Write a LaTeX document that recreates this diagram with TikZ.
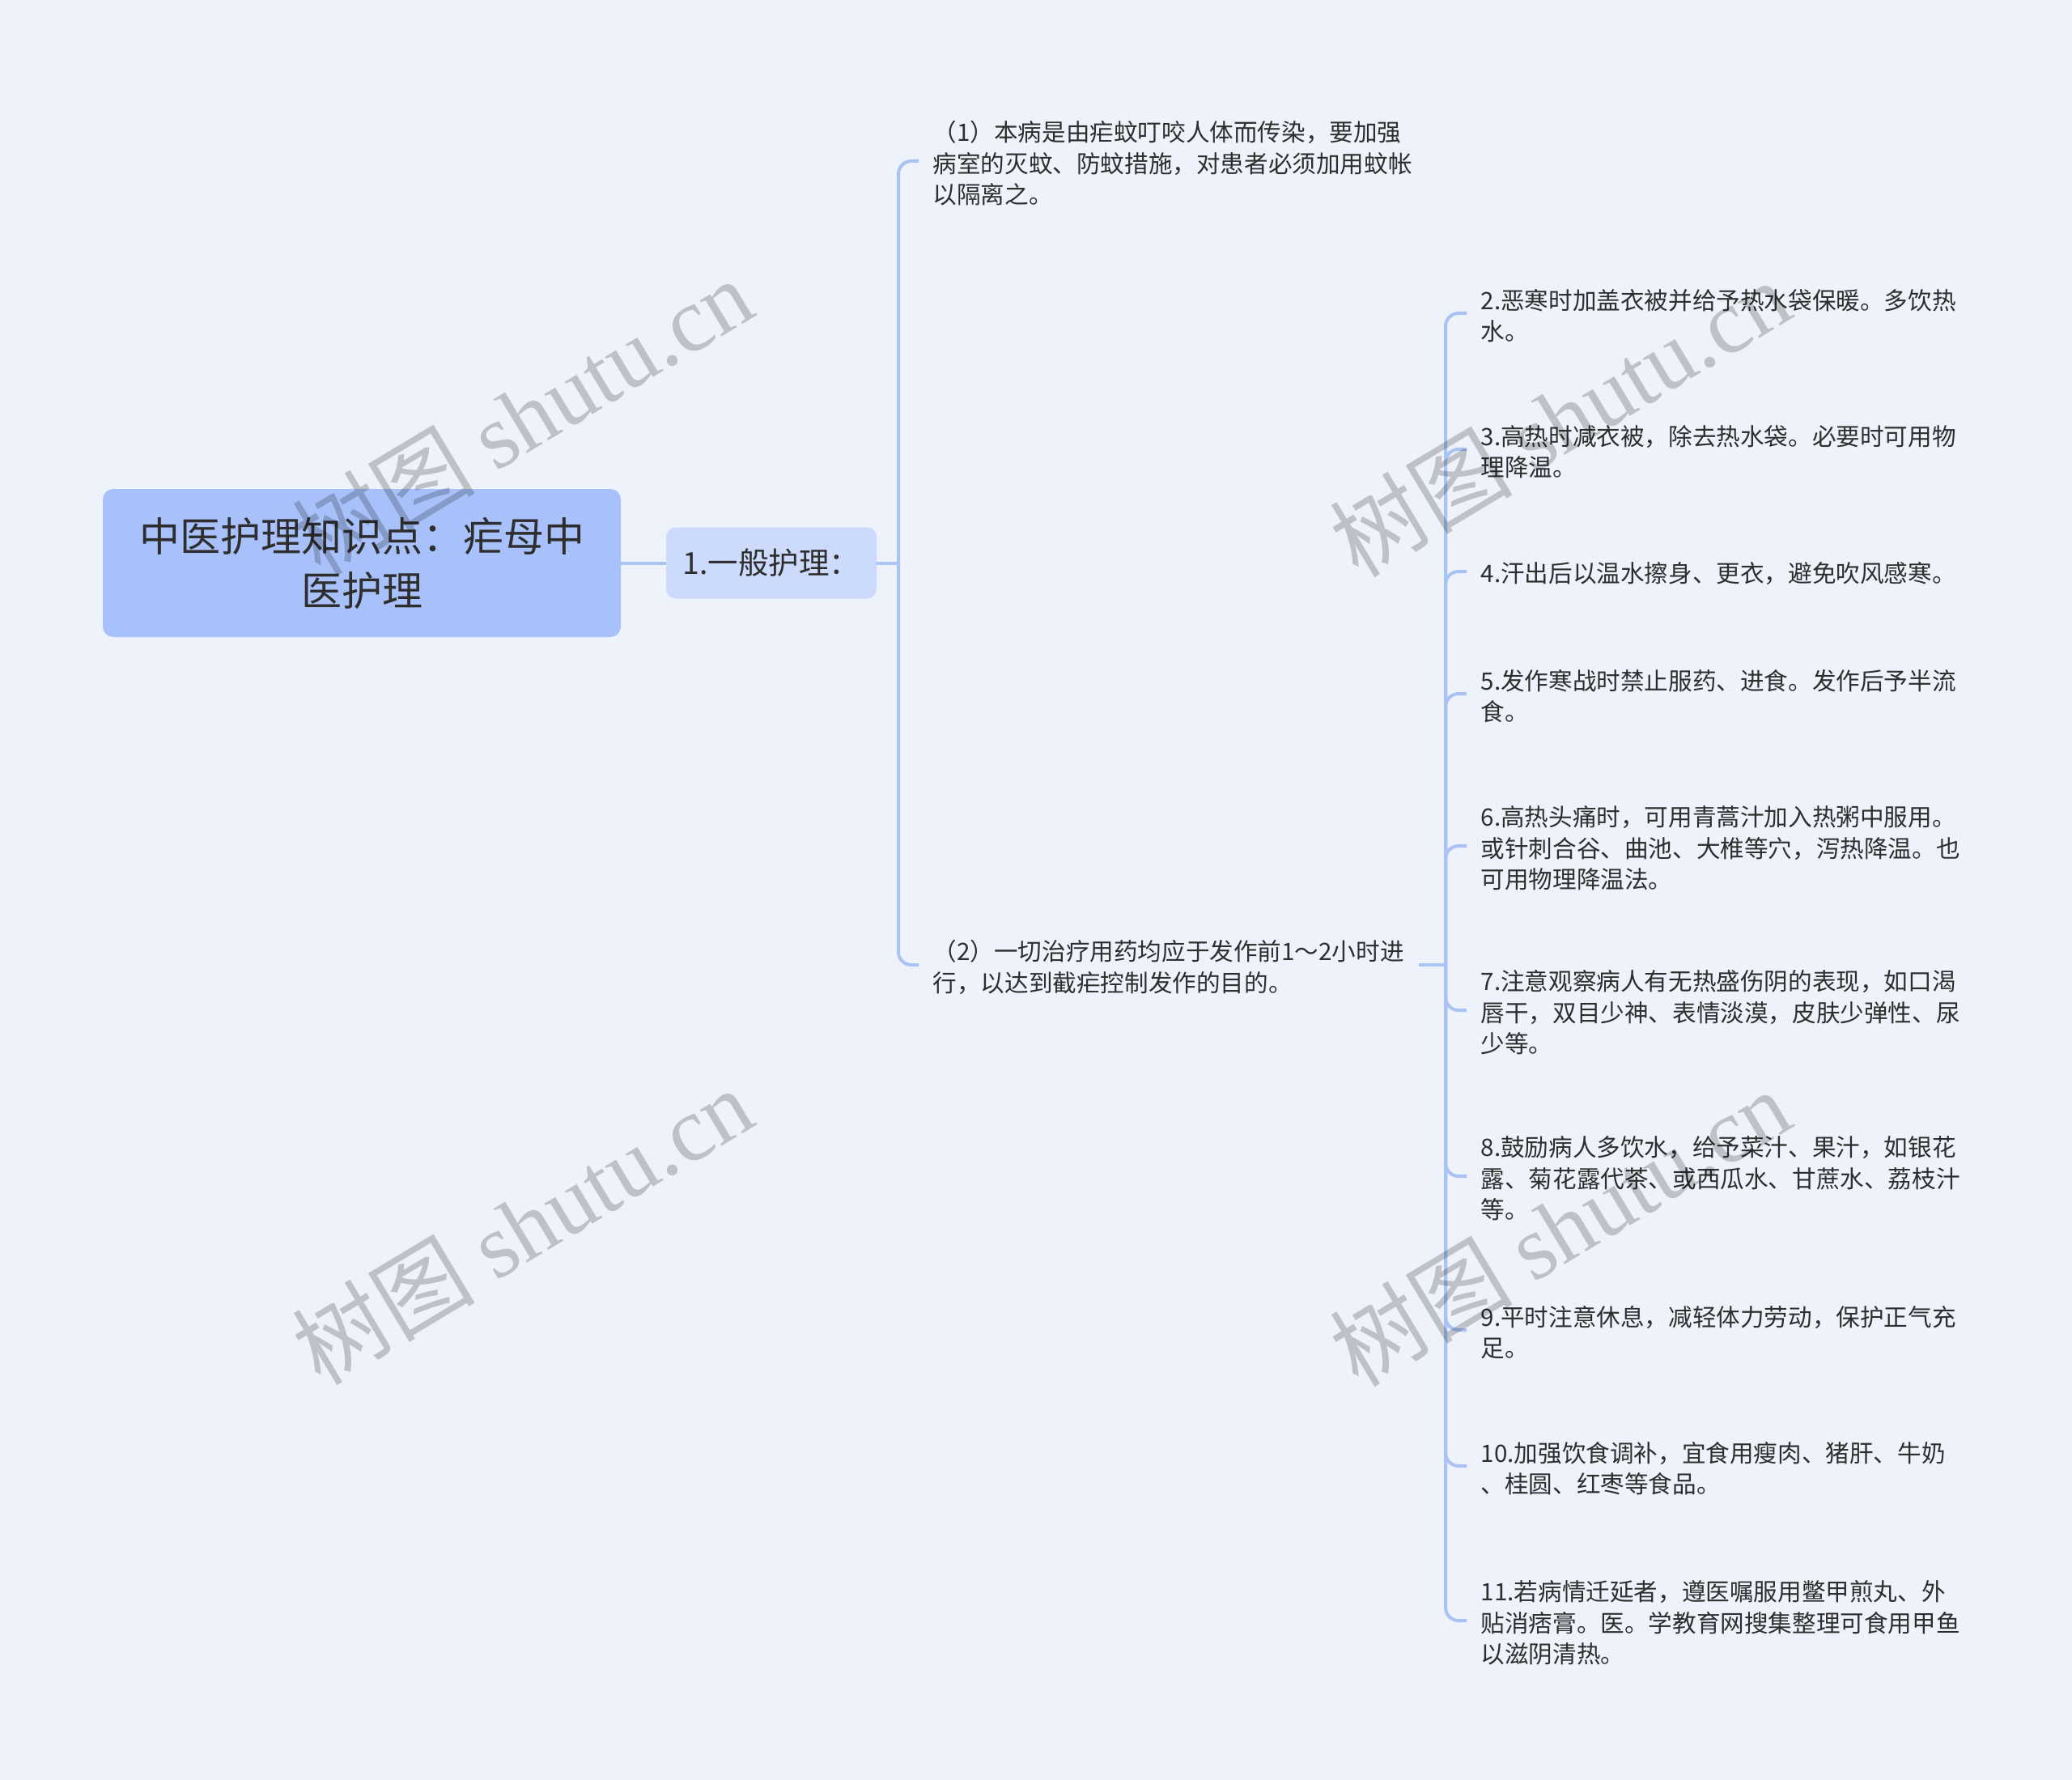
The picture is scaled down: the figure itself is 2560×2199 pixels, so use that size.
\documentclass[tikz,border=0pt]{standalone}
\usepackage{fontspec}
\setmainfont{Noto Sans CJK SC}
\newfontfamily\wmserif{Liberation Serif}
\definecolor{bg}{HTML}{EEF2FA}
\definecolor{rootfill}{HTML}{A8C1FA}
\definecolor{childfill}{HTML}{CCDAFB}
\definecolor{linec}{HTML}{AAC3F4}
\definecolor{txt}{HTML}{2E2E2E}
\begin{document}
\begin{tikzpicture}[x=1pt,y=-1pt,
  conn/.style={draw=linec, line width=4pt},
  rootbox/.style={fill=rootfill, rounded corners=13pt, minimum width=640pt, minimum height=183pt, align=center, text=txt, font=\fontsize{50}{67}\selectfont, inner sep=0pt},
  childbox/.style={fill=childfill, rounded corners=12pt, minimum width=260pt, minimum height=88pt, text=txt, font=\fontsize{37.5}{45}\selectfont, inner sep=0pt},
  leaf/.style={anchor=west, align=left, text=txt, font=\fontsize{29.6}{38.5}\selectfont, inner xsep=17.5pt, inner ysep=0pt},
  wm/.style={rotate=31, text=black, opacity=0.2, font=\fontsize{113}{113}\selectfont}]
\fill[bg] (0,0) rectangle (2560,2199);
\useasboundingbox (0,0) rectangle (2560,2199);

\node[rootbox] (root) at (447,695.5) {中医护理知识点：疟母中\\医护理};
\node[childbox] (c1) at (953,695.5) {1.一般护理：};

\node[leaf] (a1) at (1135,202) {（1）本病是由疟蚊叮咬人体而传染，要加强\\病室的灭蚊、防蚊措施，对患者必须加用蚊帐\\以隔离之。};
\node[leaf] (a2) at (1135,1195) {（2）一切治疗用药均应于发作前1～2小时进\\行，以达到截疟控制发作的目的。};

\node[leaf] (b2) at (1812,390) {2.恶寒时加盖衣被并给予热水袋保暖。多饮热\\水。};
\node[leaf] (b3) at (1812,558) {3.高热时减衣被，除去热水袋。必要时可用物\\理降温。};
\node[leaf] (b4) at (1812,709) {4.汗出后以温水擦身、更衣，避免吹风感寒。};
\node[leaf] (b5) at (1812,860) {5.发作寒战时禁止服药、进食。发作后予半流\\食。};
\node[leaf] (b6) at (1812,1048) {6.高热头痛时，可用青蒿汁加入热粥中服用。\\或针刺合谷、曲池、大椎等穴，泻热降温。也\\可用物理降温法。};
\node[leaf] (b7) at (1812,1251) {7.注意观察病人有无热盛伤阴的表现，如口渴\\唇干，双目少神、表情淡漠，皮肤少弹性、尿\\少等。};
\node[leaf] (b8) at (1812,1456) {8.鼓励病人多饮水，给予菜汁、果汁，如银花\\露、菊花露代茶、或西瓜水、甘蔗水、荔枝汁\\等。};
\node[leaf] (b9) at (1812,1646) {9.平时注意休息，减轻体力劳动，保护正气充\\足。};
\node[leaf] (b10) at (1812,1814) {10.加强饮食调补，宜食用瘦肉、猪肝、牛奶\\、桂圆、红枣等食品。};
\node[leaf] (b11) at (1812,2005) {11.若病情迁延者，遵医嘱服用鳖甲煎丸、外\\贴消痞膏。医。学教育网搜集整理可食用甲鱼\\以滋阴清热。};

\coordinate (j1) at (1110,695.5);
\coordinate (j2) at (1786,1192);
\foreach \n in {a1,a2,b2,b3,b4,b5,b6,b7,b8,b9,b10,b11}
  \coordinate (p\n) at ([yshift=3pt]\n.west);
\coordinate (qa2) at ([yshift=3pt]a2.east);

\draw[conn] (root.east) -- (c1.west);
\draw[conn] (c1.east) -- (j1);
\foreach \n in {a1,a2}
  \draw[conn, rounded corners=16pt] (j1) -- (j1 |- p\n) -- (p\n);
\draw[conn] (qa2) -- (j2);
\foreach \n in {b2,b3,b4,b5,b6,b7,b8,b9,b10,b11}
  \draw[conn, rounded corners=16pt] (j2) -- (j2 |- p\n) -- (p\n);

\node[wm] (w1) at (645,514) {树图 {\wmserif shutu.cn}};
\node[wm] (w2) at (1927,516) {树图 {\wmserif shutu.cn}};
\node[wm] (w3) at (645,1514) {树图 {\wmserif shutu.cn}};
\node[wm] (w4) at (1927,1516) {树图 {\wmserif shutu.cn}};
\end{tikzpicture}
\end{document}
